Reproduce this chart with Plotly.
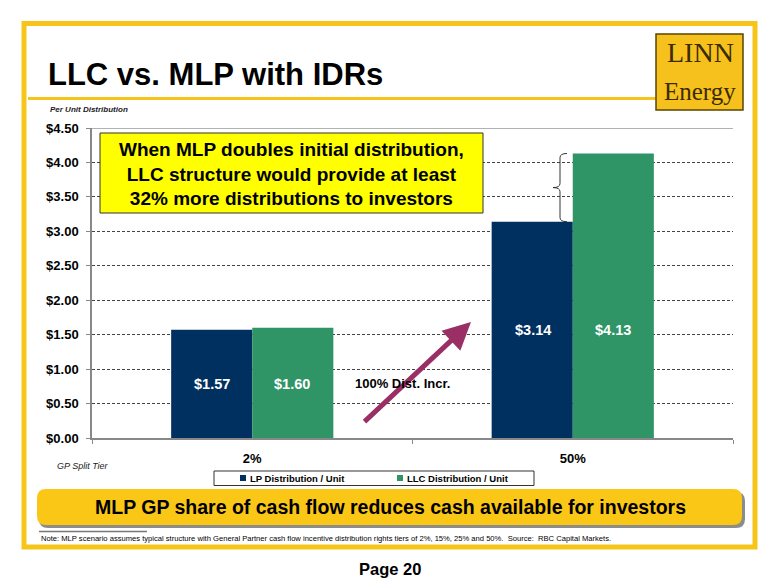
import plotly.graph_objects as go

categories = ["2%", "50%"]
lp_values = [1.57, 3.14]
llc_values = [1.60, 4.13]
series_names = ["LP Distribution / Unit", "LLC Distribution / Unit"]
y_ticks = [0, 0.5, 1.0, 1.5, 2.0, 2.5, 3.0, 3.5, 4.0, 4.5]
y_tick_text = ["$0.00", "$0.50", "$1.00", "$1.50", "$2.00", "$2.50", "$3.00", "$3.50", "$4.00", "$4.50"]

# the page body adds an 8px margin; layout below is given in page pixels
OFF = 8
W, H = 780 - OFF, 587 - OFF
L, R, T, B = 92, 733, 128, 438      # plot area, page pixels
PW, PH = R - L, B - T

def px(x):
    return (x - L) / PW

def py(y):
    return (B - y) / PH

FONT = "Liberation Sans, Arial, sans-serif"
SERIF = "Liberation Serif, Times New Roman, serif"
NAVY = "#00305F"
GREEN = "#2F9466"
GOLD = "#F7C51A"
series_colors = [NAVY, GREEN]

fig = go.Figure()
fig.add_trace(go.Bar(x=categories, y=lp_values, name=series_names[0],
                     marker=dict(color=series_colors[0], line=dict(width=0))))
fig.add_trace(go.Bar(x=categories, y=llc_values, name=series_names[1],
                     marker=dict(color=series_colors[1], line=dict(width=0))))

shapes = []
annotations = []

def text(t, x, y, size, xanchor="center", bold=False, italic=False, color="#000000", family=FONT):
    if bold:
        t = "<b>" + t + "</b>"
    if italic:
        t = "<i>" + t + "</i>"
    annotations.append(dict(text=t, xref="paper", yref="paper", x=px(x), y=py(y),
                            xanchor=xanchor, yanchor="middle", showarrow=False, align="center",
                            font=dict(family=family, size=size, color=color)))

# outer frame
shapes.append(dict(type="rect", xref="paper", yref="paper",
                   x0=px(24), x1=px(755), y0=py(23.5), y1=py(547),
                   line=dict(color=GOLD, width=5), layer="below"))
# title separator
shapes.append(dict(type="line", xref="paper", yref="paper",
                   x0=px(28), x1=px(656), y0=py(98.5), y1=py(98.5),
                   line=dict(color=GOLD, width=3)))
# logo
shapes.append(dict(type="rect", xref="paper", yref="paper",
                   x0=px(656), x1=px(743), y0=py(34), y1=py(110),
                   fillcolor="#F6C11C", line=dict(color="#5A4400", width=1.5)))
text("LINN", 700, 52, 28, color="#3B2B00", family=SERIF)
text("Energy", 700, 91, 25, color="#3B2B00", family=SERIF)

# title and axis captions
text("LLC vs. MLP with IDRs", 46, 74, 31, xanchor="left", bold=True)
text("Per Unit Distribution", 48, 109, 8, xanchor="left", bold=True, italic=True, color="#222222")
text("GP Split Tier", 55, 466, 9, xanchor="left", italic=True, color="#222222")

# top plot border
shapes.append(dict(type="line", xref="paper", yref="y", x0=0, x1=1, y0=4.5, y1=4.5,
                   line=dict(color="#999999", width=1.5)))

# callout box
shapes.append(dict(type="rect", xref="paper", yref="paper",
                   x0=px(100), x1=px(483), y0=py(133), y1=py(213),
                   fillcolor="#FFFF00", line=dict(color="#333333", width=1)))
text("When MLP doubles initial distribution,<br>LLC structure would provide at least<br>32% more distributions to investors",
     291.5, 174, 19, bold=True)

# bar value labels (placed at half the LP bar height)
offsets = [-40, 40]
for i, cat in enumerate(categories):
    for j, vals in enumerate([lp_values, llc_values]):
        annotations.append(dict(text="<b>$%.2f</b>" % vals[i], x=cat, y=lp_values[i] / 2,
                                xref="x", yref="y", xshift=offsets[j], showarrow=False,
                                font=dict(family=FONT, size=14.5, color="#FFFFFF")))

# brace between LP and LLC at 50%
bx = px(560)
bw = 7 / PW
y1v, y2v = lp_values[1], llc_values[1]
ym = (y1v + y2v) / 2
d = 0.06
path = (f"M {bx + bw},{y2v} Q {bx},{y2v} {bx},{y2v - d} "
        f"L {bx},{ym + d} Q {bx},{ym} {bx - bw},{ym} "
        f"Q {bx},{ym} {bx},{ym - d} L {bx},{y1v + d} Q {bx},{y1v} {bx + bw},{y1v}")
shapes.append(dict(type="path", xref="paper", yref="y", path=path,
                   line=dict(color="#333333", width=1)))

# arrow
annotations.append(dict(x=px(471), y=py(322), xref="paper", yref="paper",
                        ax=363 - 471, ay=423 - 322,
                        showarrow=True, arrowhead=2, arrowsize=1.1, arrowwidth=5,
                        arrowcolor="#9A2F66", text=""))
text("100% Dist. Incr.", 402, 383, 13, bold=True)

# legend (box, swatches, labels)
shapes.append(dict(type="rect", xref="paper", yref="paper",
                   x0=px(214), x1=px(534), y0=py(471), y1=py(485.5),
                   fillcolor="#FFFFFF", line=dict(color="#333333", width=1)))
for k, (nm, col) in enumerate(zip(series_names, series_colors)):
    sx = 243 + 157 * k
    shapes.append(dict(type="rect", xref="paper", yref="paper",
                       x0=px(sx - 3), x1=px(sx + 3), y0=py(475), y1=py(481),
                       fillcolor=col, line=dict(width=0)))
    text(nm, sx + 5, 478.5, 9.5, xanchor="left", bold=True)

# banner shadow and banner
def rrect(x0, y0, x1, y1, r):
    X0, X1 = px(x0), px(x1)
    Y0, Y1 = py(y0), py(y1)
    rx, ry = r / PW, r / PH
    return (f"M {X0 + rx},{Y0} L {X1 - rx},{Y0} Q {X1},{Y0} {X1},{Y0 - ry} "
            f"L {X1},{Y1 + ry} Q {X1},{Y1} {X1 - rx},{Y1} L {X0 + rx},{Y1} "
            f"Q {X0},{Y1} {X0},{Y1 + ry} L {X0},{Y0 - ry} Q {X0},{Y0} {X0 + rx},{Y0} Z")

shapes.append(dict(type="path", xref="paper", yref="paper", path=rrect(39, 492, 745, 528, 9),
                   fillcolor="#8C8C8C", line=dict(width=0)))
shapes.append(dict(type="path", xref="paper", yref="paper", path=rrect(37, 489, 742, 525, 9),
                   fillcolor="#FBC716", line=dict(width=0)))
text("MLP GP share of cash flow reduces cash available for investors", 390, 507, 19.5, bold=True)

# note line and note
shapes.append(dict(type="line", xref="paper", yref="paper", x0=px(39), x1=px(147),
                   y0=py(531.5), y1=py(531.5), line=dict(color="#777777", width=1.5)))
text("Note: MLP scenario assumes typical structure with General Partner cash flow incentive distribution rights tiers of 2%, 15%, 25% and 50%.  Source:  RBC Capital Markets.",
     39, 538, 7.6, xanchor="left")
text("Page 20", 390, 569, 16.5, bold=True)

fig.update_layout(
    width=W, height=H,
    margin=dict(l=L - OFF, r=780 - R, t=T - OFF, b=587 - B, pad=0),
    paper_bgcolor="#FFFFFF", plot_bgcolor="#FFFFFF",
    barmode="group", bargap=0.494, bargroupgap=0,
    showlegend=False,
    xaxis=dict(type="category", showgrid=False, showline=True, linecolor="#888888", linewidth=1.5,
               ticks="outside", tickson="boundaries", ticklen=4, tickcolor="#888888",
               tickfont=dict(family=FONT, size=13, color="#000000", weight="bold"),
               automargin=False, ticklabelstandoff=8, fixedrange=True),
    yaxis=dict(range=[0, 4.5], tickvals=y_ticks, ticktext=y_tick_text,
               showgrid=True, gridcolor="#444444", griddash="3px,2px", gridwidth=1,
               showline=True, linecolor="#888888", linewidth=1.5, zeroline=False,
               ticks="outside", ticklen=4, tickcolor="#888888",
               tickfont=dict(family=FONT, size=13, color="#000000", weight="bold"),
               automargin=False, ticklabelstandoff=5, fixedrange=True),
    shapes=shapes, annotations=annotations,
)

fig.write_html("out.html")
